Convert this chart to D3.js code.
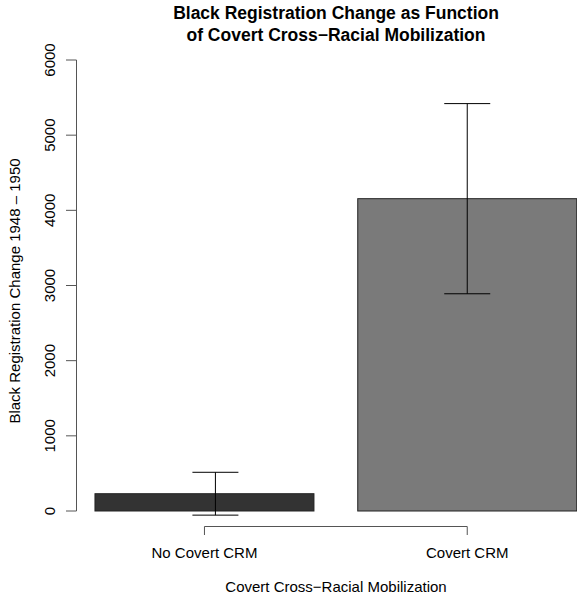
<!DOCTYPE html>
<html>
<head>
<meta charset="utf-8">
<script src="https://cdn.jsdelivr.net/npm/d3@7"></script>
<style>
  body { margin: 0; background: #fff; }
  svg { display: block; font-family: "Liberation Sans", Arial, Helvetica, sans-serif; }
</style>
</head>
<body>
<svg id="chart" width="577" height="605"></svg>
<script>
// Chart data
const categories = ["No Covert CRM", "Covert CRM"];
const values = [230, 4155];
const errors = [285, 1265];
const barLeft = [0.2, 1.4];      // bar left edge, in bar-width units
const errorX = [0.75, 1.9];      // where the error bars sit, in bar-width units
const barColors = ["#333333", "#7a7a7a"];
const yTicks = [0, 1000, 2000, 3000, 4000, 5000, 6000];

const svg = d3.select("#chart");
const fontSize = "15px";

// Scales (R barplot style: width 1, space 0.2)
const x = d3.scaleLinear().domain([0.112, 2.488]).range([75.7, 596]);
const y = d3.scaleLinear().domain([0, 6000]).range([511, 60]);

// Bars
svg.selectAll("rect.bar")
    .data(values)
    .join("rect")
    .attr("class", "bar")
    .attr("x", (d, i) => x(barLeft[i]))
    .attr("width", x(1) - x(0))
    .attr("y", d => y(d))
    .attr("height", d => y(0) - y(d))
    .attr("fill", (d, i) => barColors[i])
    .attr("stroke", "#222")
    .attr("stroke-width", 1);

// Error bars
const capHalf = 23;
const err = svg.append("g").attr("stroke", "#000").attr("stroke-width", 1);
values.forEach((v, i) => {
    const cx = x(errorX[i]);
    err.append("line")
        .attr("x1", cx).attr("x2", cx)
        .attr("y1", y(v + errors[i])).attr("y2", y(v - errors[i]));
    [v + errors[i], v - errors[i]].forEach(e => {
        err.append("line")
            .attr("x1", cx - capHalf).attr("x2", cx + capHalf)
            .attr("y1", y(e)).attr("y2", y(e));
    });
});

// Y axis
const yAxis = svg.append("g").attr("stroke", "#555").attr("stroke-width", 1);
yAxis.append("line")
    .attr("x1", 76.5).attr("x2", 76.5)
    .attr("y1", y(0)).attr("y2", y(6000));
yAxis.selectAll("line.tick")
    .data(yTicks)
    .join("line")
    .attr("class", "tick")
    .attr("x1", 66).attr("x2", 76.5)
    .attr("y1", d => y(d)).attr("y2", d => y(d));

svg.selectAll("text.ytick")
    .data(yTicks)
    .join("text")
    .attr("class", "ytick")
    .attr("transform", d => `translate(54.5,${y(d)}) rotate(-90)`)
    .attr("text-anchor", "middle")
    .attr("font-size", fontSize)
    .attr("fill", "#000")
    .text(d => d);

// X axis
const barCenters = barLeft.map(b => b + 0.5);
const xAxis = svg.append("g").attr("stroke", "#555").attr("stroke-width", 1);
xAxis.append("line")
    .attr("x1", x(barCenters[0])).attr("x2", x(barCenters[1]))
    .attr("y1", 526.5).attr("y2", 526.5);
xAxis.selectAll("line.tick")
    .data(barCenters)
    .join("line")
    .attr("class", "tick")
    .attr("x1", d => x(d)).attr("x2", d => x(d))
    .attr("y1", 526.5).attr("y2", 535);

svg.selectAll("text.xtick")
    .data(categories)
    .join("text")
    .attr("class", "xtick")
    .attr("x", (d, i) => x(barCenters[i]))
    .attr("y", 558)
    .attr("text-anchor", "middle")
    .attr("font-size", fontSize)
    .text(d => d);

// Axis titles
svg.append("text")
    .attr("x", 336)
    .attr("y", 591.5)
    .attr("text-anchor", "middle")
    .attr("font-size", fontSize)
    .text("Covert Cross\u2212Racial Mobilization");

svg.append("text")
    .attr("transform", "translate(20,291) rotate(-90)")
    .attr("text-anchor", "middle")
    .attr("font-size", fontSize)
    .text("Black Registration Change 1948 \u2013 1950");

// Title
const title = svg.append("text")
    .attr("text-anchor", "middle")
    .attr("font-size", "17.5px")
    .attr("font-weight", "bold");
title.append("tspan").attr("x", 336).attr("y", 19).text("Black Registration Change as Function");
title.append("tspan").attr("x", 336).attr("y", 41).text("of Covert Cross\u2212Racial Mobilization");
</script>
</body>
</html>
